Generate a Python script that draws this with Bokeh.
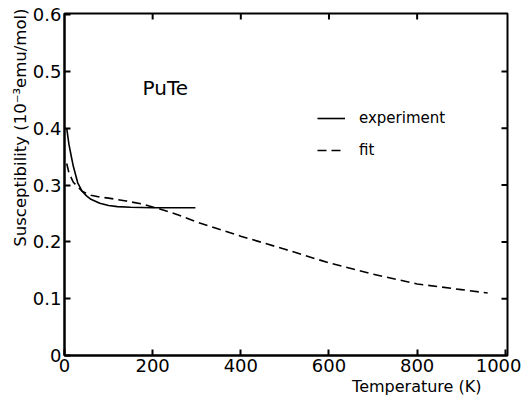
from bokeh.plotting import figure
from bokeh.models import (Range1d, LinearAxis, FixedTicker, Legend, LegendItem, Label, Title)
from bokeh.embed import file_html
from bokeh.resources import INLINE

# ---- data ----
exp_T = [5, 10, 15, 20, 30, 40, 50, 60, 80, 100, 120, 150, 200, 250, 297]
exp_chi = [0.400, 0.372, 0.352, 0.333, 0.304, 0.289, 0.281, 0.275, 0.268, 0.264, 0.262, 0.261, 0.260, 0.260, 0.260]

fit_T = [5, 10, 20, 40, 60, 80, 100, 140, 180, 220, 260, 300, 400, 500, 600, 700, 800, 900, 960]
fit_chi = [0.338, 0.322, 0.305, 0.289, 0.282, 0.279, 0.277, 0.272, 0.266, 0.257, 0.247, 0.235,
           0.210, 0.187, 0.163, 0.143, 0.126, 0.116, 0.110]

x_ticks = [0, 200, 400, 600, 800, 1000]
y_ticks = [0, 0.1, 0.2, 0.3, 0.4, 0.5, 0.6]
top_ticks = [200, 400, 600, 800]
right_ticks = [0.1, 0.2, 0.3, 0.4, 0.5]

FONT = "DejaVu Sans"
X_MAX = 1005
Y_MAX = 0.602

p = figure(width=521, height=396, output_backend="svg", toolbar_location=None,
           x_range=Range1d(0, X_MAX), y_range=Range1d(0, Y_MAX),
           min_border_left=64, min_border_right=14, min_border_top=13, min_border_bottom=41,
           x_axis_location=None, y_axis_location=None)
p.grid.visible = False
p.outline_line_color = "black"
p.outline_line_width = 2
p.background_fill_color = "white"
p.border_fill_color = "white"


def style_axis(ax, ticks):
    ax.ticker = FixedTicker(ticks=ticks)
    ax.major_tick_in = 6
    ax.major_tick_out = 0
    ax.minor_tick_in = 0
    ax.minor_tick_out = 0
    ax.axis_line_width = 2
    ax.major_tick_line_width = 2
    ax.axis_line_color = "black"
    ax.major_tick_line_color = "black"
    ax.major_label_text_font = FONT
    ax.major_label_text_font_size = "18px"
    ax.major_label_text_color = "black"


left = LinearAxis()
style_axis(left, y_ticks)
left.major_label_standoff = 3
left.major_label_overrides = {0: "0"}
p.add_layout(left, "left")

bottom = LinearAxis()
style_axis(bottom, x_ticks)
bottom.major_label_standoff = 3
p.add_layout(bottom, "below")

# inward ticks on the top and right edges of the frame (tick length ~6 px)
tick_dx = 6 * X_MAX / 443.0
tick_dy = 6 * Y_MAX / 342.0
p.segment(x0=top_ticks, y0=[Y_MAX] * len(top_ticks), x1=top_ticks,
          y1=[Y_MAX - tick_dy] * len(top_ticks), line_color="black", line_width=2)
p.segment(x0=[X_MAX] * len(right_ticks), y0=right_ticks, x1=[X_MAX - tick_dx] * len(right_ticks),
          y1=right_ticks, line_color="black", line_width=2)

r_exp = p.line(exp_T, exp_chi, line_color="black", line_width=1.6)
r_fit = p.line(fit_T, fit_chi, line_color="black", line_width=1.6, line_dash="9 5")

legend = Legend(items=[LegendItem(label="experiment", renderers=[r_exp]),
                       LegendItem(label="fit", renderers=[r_fit])],
                location=(253, 195), padding=0, margin=0, spacing=12,
                glyph_width=28, glyph_height=20, label_height=20, label_standoff=14,
                label_text_font=FONT, label_text_font_size="15px", label_text_color="black",
                border_line_alpha=0, background_fill_alpha=0)
p.add_layout(legend, "center")

p.add_layout(Label(x=177, y=0.4716, text="PuTe", text_font=FONT, text_font_size="20px",
                   text_align="left", text_baseline="alphabetic", text_color="black"))

xt = Title(text="Temperature (K)", align="right", offset=26, standoff=0,
           text_font=FONT, text_font_size="16px", text_font_style="normal", text_color="black")
p.add_layout(xt, "below")

yt = Title(text="Susceptibility (10\u207b\u00b3emu/mol)", align="right", offset=-5, standoff=0,
           text_font=FONT, text_font_size="16.5px", text_font_style="normal", text_color="black")
p.add_layout(yt, "left")

open("out.html", "w").write(file_html(p, INLINE))
